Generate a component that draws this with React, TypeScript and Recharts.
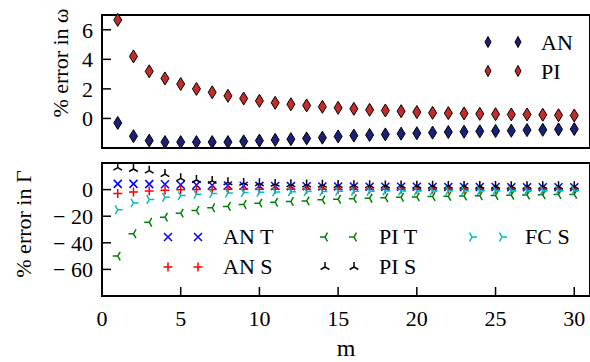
import { ScatterChart, Scatter, XAxis, YAxis, ReferenceArea } from "recharts";

// m = 1..30
const mValues = [1, 2, 3, 4, 5, 6, 7, 8, 9, 10, 11, 12, 13, 14, 15, 16, 17, 18, 19, 20, 21, 22, 23, 24, 25, 26, 27, 28, 29, 30];

// % error in omega
const anOmega = [-0.3, -1.2, -1.5, -1.6, -1.6, -1.6, -1.6, -1.6, -1.55, -1.5, -1.45, -1.4, -1.35, -1.3, -1.22, -1.16, -1.12, -1.08, -1.03, -1.0, -0.96, -0.92, -0.9, -0.87, -0.85, -0.83, -0.79, -0.77, -0.74, -0.72];
const piOmega = [6.67, 4.2, 3.19, 2.71, 2.33, 2.0, 1.77, 1.53, 1.35, 1.19, 1.06, 0.96, 0.88, 0.79, 0.72, 0.65, 0.58, 0.54, 0.49, 0.43, 0.38, 0.36, 0.34, 0.31, 0.29, 0.27, 0.27, 0.25, 0.22, 0.2];

// % error in Gamma
const anT = [4.3, 4.3, 4.1, 4.0, 3.7, 3.5, 3.3, 3.1, 2.9, 2.8, 2.7, 2.6, 2.5, 2.4, 2.3, 2.3, 2.2, 2.2, 2.1, 2.1, 2.0, 2.0, 1.9, 1.9, 1.9, 1.8, 1.8, 1.8, 1.7, 1.7];
const anS = [-3.0, -1.8, -1.0, -0.5, -0.2, 0.0, 0.1, 0.2, 0.2, 0.3, 0.3, 0.3, 0.3, 0.3, 0.3, 0.3, 0.3, 0.3, 0.3, 0.3, 0.3, 0.3, 0.3, 0.3, 0.3, 0.3, 0.3, 0.3, 0.3, 0.3];
const piT = [-50, -33.2, -24.5, -20.7, -17.7, -15.7, -13.7, -12.7, -11.2, -10.2, -9.5, -9.0, -8.5, -7.7, -7.2, -6.8, -6.5, -6.1, -5.8, -5.5, -5.2, -5.0, -4.8, -4.6, -4.4, -4.2, -4.0, -3.9, -3.7, -3.6];
const piS = [16.5, 15.5, 14.2, 11.7, 8.5, 7.2, 6.5, 5.5, 5.0, 4.7, 4.3, 4.0, 3.8, 3.6, 3.4, 3.3, 3.2, 3.1, 3.0, 2.9, 2.9, 2.8, 2.8, 2.7, 2.7, 2.6, 2.6, 2.6, 2.5, 2.5];
const fcS = [-15.2, -10, -7.5, -5.7, -4.5, -3.5, -3.0, -2.6, -2.2, -2.0, -1.8, -1.6, -1.5, -1.4, -1.3, -1.2, -1.2, -1.1, -1.1, -1.0, -1.0, -0.9, -0.9, -0.9, -0.8, -0.8, -0.8, -0.7, -0.7, -0.7];

const xTicks = [0, 5, 10, 15, 20, 25, 30];
const omegaTicks = [0, 2, 4, 6];
const gammaTicks = [-60, -40, -20, 0];

const FONT = "Times New Roman";
const BLUE_D = "#1d1d7a";
const RED_D = "#c62b2b";

const pts = (vals: number[]) => mValues.map((m, i) => ({ m, v: vals[i] }));

// marker shapes, drawn around the point that recharts hands over
const diamond = (fill: string, w = 4, h = 6.5) => (p: any) => (
    <path
        d={`M${p.cx},${p.cy - h}L${p.cx + w},${p.cy}L${p.cx},${p.cy + h}L${p.cx - w},${p.cy}Z`}
        fill={fill}
        stroke="#000"
        strokeWidth={1}
    />
);

const cross = (color: string, r = 4) => (p: any) => (
    <path
        d={`M${p.cx - r},${p.cy - r}L${p.cx + r},${p.cy + r}M${p.cx - r},${p.cy + r}L${p.cx + r},${p.cy - r}`}
        stroke={color}
        strokeWidth={1.5}
        fill="none"
    />
);

const plus = (color: string, r = 4.5) => (p: any) => (
    <path
        d={`M${p.cx - r},${p.cy}L${p.cx + r},${p.cy}M${p.cx},${p.cy - r}L${p.cx},${p.cy + r}`}
        stroke={color}
        strokeWidth={1.5}
        fill="none"
    />
);

// tri markers: angle of the single arm (deg, svg coords)
const tri = (color: string, angle: number, r = 5) => (p: any) => {
    const arms = [angle, angle + 120, angle + 240].map((a) => {
        const rad = (a * Math.PI) / 180;
        return `M${p.cx},${p.cy}L${p.cx + r * Math.cos(rad)},${p.cy + r * Math.sin(rad)}`;
    });
    return <path d={arms.join("")} stroke={color} strokeWidth={1.5} fill="none" />;
};

const TRI_UP = -90;
const TRI_LEFT = 180;
const TRI_RIGHT = 0;

const gammaFmt = (v: number) => (v < 0 ? `\u2212 ${-v}` : `${v}`);

const tickStyle = { fontFamily: FONT, fontSize: 22, fill: "#000" };

function Legends() {
    const t = { fontFamily: FONT, fontSize: 22, fill: "#000" };
    const pair = (shape: (p: any) => any, x1: number, x2: number, y: number) => (
        <>
            {shape({ cx: x1, cy: y })}
            {shape({ cx: x2, cy: y })}
        </>
    );
    return (
        <svg width={590} height={362} style={{ position: "absolute", left: 0, top: 0 }}>
            {/* axis titles */}
            <text x={68} y={63} transform="rotate(-90 68 63)" textAnchor="middle" {...t}>
                % error in ω
            </text>
            <text x={31} y={224} transform="rotate(-90 31 224)" textAnchor="middle" {...t}>
                % error in Γ
            </text>

            {/* top legend */}
            {pair(diamond(BLUE_D, 3, 5.5), 488, 518, 42)}
            <text x={541} y={50} {...t}>AN</text>
            {pair(diamond(RED_D, 3, 5.5), 488, 518, 71)}
            <text x={541} y={79} {...t}>PI</text>

            {/* bottom legend */}
            {pair(cross("#0000ff"), 168, 198, 237)}
            <text x={223} y={244} {...t}>AN T</text>
            {pair(plus("#ff0000"), 168, 198, 267)}
            <text x={223} y={274} {...t}>AN S</text>

            {pair(tri("#008000", TRI_LEFT), 325, 354, 237)}
            <text x={379} y={244} {...t}>PI T</text>
            {pair(tri("#000", TRI_UP), 325, 354, 267)}
            <text x={379} y={274} {...t}>PI S</text>

            {pair(tri("#00bfbf", TRI_RIGHT), 472, 502, 237)}
            <text x={525} y={244} {...t}>FC S</text>
        </svg>
    );
}

export default function App() {
    return (
        <div style={{ position: "absolute", left: 0, top: 0, width: 590, height: 362, overflow: "hidden" }}>
            {/* top panel: omega */}
            <div style={{ position: "absolute", left: 0, top: 0 }}>
                <ScatterChart width={592} height={160} margin={{ top: 15, right: 2, bottom: 12, left: 0 }}>
                    <XAxis
                        type="number"
                        dataKey="m"
                        domain={[0, 31]}
                        ticks={xTicks}
                        height={0}
                        tick={false}
                        tickLine={false}
                        axisLine={false}
                    />
                    <YAxis
                        type="number"
                        dataKey="v"
                        domain={[-2, 7]}
                        ticks={omegaTicks}
                        interval={0}
                        width={102}
                        axisLine={false}
                        tickSize={-9}
                        tickMargin={18}
                        tickLine={{ stroke: "#000", strokeWidth: 1.5 }}
                        tick={tickStyle}
                    />
                    <YAxis
                        yAxisId="r"
                        orientation="right"
                        type="number"
                        domain={[-2, 7]}
                        ticks={omegaTicks}
                        interval={0}
                        width={0}
                        axisLine={false}
                        tickSize={-9}
                        tick={false}
                        tickLine={{ stroke: "#000", strokeWidth: 1.5 }}
                    />
                    <Scatter data={pts(anOmega)} shape={diamond(BLUE_D)} isAnimationActive={false} />
                    <Scatter data={pts(piOmega)} shape={diamond(RED_D)} isAnimationActive={false} />
                    <ReferenceArea x1={0} x2={31} y1={-2} y2={7} fill="none" stroke="#000" strokeWidth={2} ifOverflow="visible" />
                </ScatterChart>
            </div>

            {/* bottom panel: Gamma */}
            <div style={{ position: "absolute", left: 0, top: 150 }}>
                <ScatterChart width={592} height={212} margin={{ top: 13, right: 2, bottom: 0, left: 0 }}>
                    <XAxis
                        type="number"
                        dataKey="m"
                        domain={[0, 31]}
                        ticks={xTicks}
                        interval={0}
                        height={66}
                        axisLine={false}
                        tickSize={-9}
                        tickMargin={23}
                        tickLine={{ stroke: "#000", strokeWidth: 1.5 }}
                        tick={tickStyle}
                        label={{ value: "m", position: "insideBottom", offset: 6, fontSize: 24, fill: "#000", fontFamily: FONT }}
                    />
                    <XAxis
                        xAxisId="t"
                        orientation="top"
                        type="number"
                        domain={[0, 31]}
                        ticks={xTicks}
                        interval={0}
                        height={0}
                        axisLine={false}
                        tickSize={-9}
                        tick={false}
                        tickLine={{ stroke: "#000", strokeWidth: 1.5 }}
                    />
                    <YAxis
                        type="number"
                        dataKey="v"
                        domain={[-80, 20]}
                        ticks={gammaTicks}
                        interval={0}
                        width={102}
                        axisLine={false}
                        tickSize={-9}
                        tickMargin={18}
                        tickLine={{ stroke: "#000", strokeWidth: 1.5 }}
                        tick={tickStyle}
                        tickFormatter={gammaFmt}
                    />
                    <YAxis
                        yAxisId="r"
                        orientation="right"
                        type="number"
                        domain={[-80, 20]}
                        ticks={gammaTicks}
                        interval={0}
                        width={0}
                        axisLine={false}
                        tickSize={-9}
                        tick={false}
                        tickLine={{ stroke: "#000", strokeWidth: 1.5 }}
                    />
                    <Scatter data={pts(anT)} shape={cross("#0000ff")} isAnimationActive={false} />
                    <Scatter data={pts(anS)} shape={plus("#ff0000")} isAnimationActive={false} />
                    <Scatter data={pts(piT)} shape={tri("#008000", TRI_LEFT)} isAnimationActive={false} />
                    <Scatter data={pts(piS)} shape={tri("#000", TRI_UP)} isAnimationActive={false} />
                    <Scatter data={pts(fcS)} shape={tri("#00bfbf", TRI_RIGHT)} isAnimationActive={false} />
                    <ReferenceArea x1={0} x2={31} y1={-80} y2={20} fill="none" stroke="#000" strokeWidth={2} ifOverflow="visible" />
                </ScatterChart>
            </div>

            <Legends />
        </div>
    );
}
